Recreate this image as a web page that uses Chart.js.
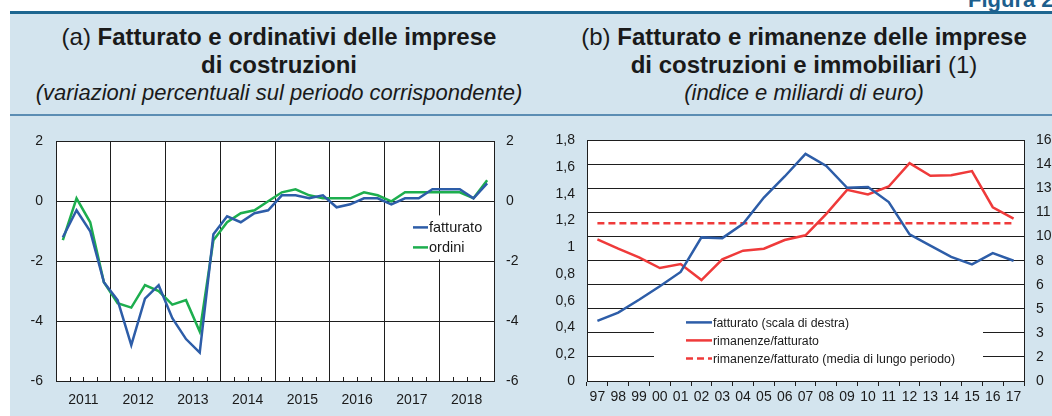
<!DOCTYPE html>
<html lang="it">
<head>
<meta charset="utf-8">
<title>Figura 2</title>
<script src="https://cdn.jsdelivr.net/npm/chart.js@4.4.1/dist/chart.umd.min.js"></script>
<style>
  html, body { margin: 0; padding: 0; background: #fff; }
  #page { position: relative; width: 1052px; height: 416px; overflow: hidden;
          font-family: 'Liberation Sans', Arial, sans-serif; color: #1a1a1a; }
  .band { position: absolute; left: 10px; top: 14px; right: 0; bottom: 0; background: #d3e4ee; }
  .topline { position: absolute; left: 10px; top: 11px; right: 0; height: 3px; background: #1d6690; }
  .sepline { position: absolute; left: 10px; top: 114px; right: 0; height: 2px; background: #5b8db3; }
  .figura { position: absolute; left: 968px; top: -13px; font-weight: bold; font-size: 22px;
            line-height: 25px; color: #1d5f8d; white-space: nowrap; }
  .head { position: absolute; top: 23px; width: 520px; text-align: center; line-height: 28px; }
  .head .t { font-size: 24px; }
  .head .s { font-size: 22px; font-style: italic; }
  canvas { position: absolute; top: 120px; }
</style>
</head>
<body>
<div id="page">
  <div class="band"></div>
  <div class="topline"></div>
  <div class="figura">Figura 2.</div>
  <div class="sepline"></div>

  <div class="head" style="left:19px">
    <div class="t">(a) <b>Fatturato e ordinativi delle imprese</b></div>
    <div class="t"><b>di costruzioni</b></div>
    <div class="s">(variazioni percentuali sul periodo corrispondente)</div>
  </div>
  <div class="head" style="left:544px">
    <div class="t">(b) <b>Fatturato e rimanenze delle imprese</b></div>
    <div class="t"><b>di costruzioni e immobiliari</b> (1)</div>
    <div class="s">(indice e miliardi di euro)</div>
  </div>

  <canvas id="chartA" width="520" height="296" style="left:10px"></canvas>
  <canvas id="chartB" width="522" height="296" style="left:530px"></canvas>
</div>

<script>
// --- pannello (a): dati trimestrali 2011-2018
const anni = ['2011', '2012', '2013', '2014', '2015', '2016', '2017', '2018'];
const fatturatoTrim = [-1.2, -0.3, -1.0, -2.7, -3.3, -4.8, -3.25, -2.8, -3.9, -4.6, -5.05, -1.1,
  -0.5, -0.7, -0.4, -0.3, 0.2, 0.2, 0.1, 0.2, -0.2, -0.1, 0.1, 0.1,
  -0.1, 0.1, 0.1, 0.4, 0.4, 0.4, 0.1, 0.6];
const ordiniTrim = [-1.3, 0.1, -0.7, -2.7, -3.4, -3.55, -2.8, -3.0, -3.45, -3.3, -4.35, -1.3,
  -0.7, -0.4, -0.3, 0.0, 0.3, 0.4, 0.2, 0.1, 0.1, 0.1, 0.3, 0.2,
  0.0, 0.3, 0.3, 0.3, 0.3, 0.3, 0.1, 0.7];
const ticksA = [-6, -4, -2, 0, 2];

// --- pannello (b): dati annuali 1997-2017
const anniB = ['97', '98', '99', '00', '01', '02', '03', '04', '05', '06', '07',
  '08', '09', '10', '11', '12', '13', '14', '15', '16', '17'];
const fatturatoMld = [4.0, 4.55, 5.4, 6.3, 7.25, 9.55, 9.5, 10.45, 12.2, 13.6, 15.1,
  14.3, 12.85, 12.9, 11.9, 9.75, 9.0, 8.25, 7.75, 8.5, 8.0];
const rimanenzeFatt = [1.06, 0.99, 0.925, 0.845, 0.875, 0.755, 0.91, 0.975, 0.99, 1.055, 1.09,
  1.25, 1.43, 1.395, 1.455, 1.63, 1.535, 1.54, 1.57, 1.3, 1.215];
const mediaLungoPeriodo = [1.18, 1.18, 1.18, 1.18, 1.18, 1.18, 1.18, 1.18, 1.18, 1.18, 1.18,
  1.18, 1.18, 1.18, 1.18, 1.18, 1.18, 1.18, 1.18, 1.18, 1.18];
const ticksSinistra = [0, 0.2, 0.4, 0.6, 0.8, 1, 1.2, 1.4, 1.6, 1.8];
const ticksDestra = [0, 1.6, 3.2, 4.8, 6.4, 8, 9.6, 11.2, 12.8, 14.4, 16];

const BLU = '#2d5da8';
const VERDE = '#1dae4e';
const ROSSO = '#ef3a3a';
const NERO = '#1e1e1e';

Chart.defaults.font.family = "'Liberation Sans', Arial, sans-serif";
Chart.defaults.font.size = 14;
Chart.defaults.color = '#1a1a1a';

const trimestri = anni.flatMap(function (a) {
  return ['T1', 'T2', 'T3', 'T4'].map(function (q) { return a + ' ' + q; });
});

// white plot area on the light blue band
const sfondoBianco = {
  id: 'sfondoBianco',
  beforeDraw(chart) {
    const a = chart.chartArea;
    const ctx = chart.ctx;
    ctx.save();
    ctx.fillStyle = '#fff';
    ctx.fillRect(a.left, a.top, a.width, a.height);
    ctx.restore();
  }
};

// legend drawn inside the plot, on a white patch that hides the grid
function legendaInterna(o) {
  return {
    id: 'legendaInterna',
    beforeDatasetsDraw(chart) {
      const a = chart.chartArea;
      const ctx = chart.ctx;
      ctx.save();
      ctx.fillStyle = '#fff';
      ctx.fillRect(a.left + o.box[0], a.top + o.box[1], o.box[2], o.box[3]);
      ctx.font = o.font;
      ctx.textBaseline = 'middle';
      chart.data.datasets.forEach(function (ds, i) {
        const y = a.top + o.y0 + i * o.dy;
        const x = a.left + o.x0;
        ctx.strokeStyle = ds.borderColor;
        ctx.lineWidth = ds.borderWidth;
        ctx.setLineDash(ds.borderDash || []);
        ctx.beginPath();
        ctx.moveTo(x, y);
        ctx.lineTo(x + o.len, y);
        ctx.stroke();
        ctx.setLineDash([]);
        ctx.fillStyle = '#1a1a1a';
        ctx.fillText(ds.label, x + o.len + 1, y + 1);
      });
      ctx.restore();
    }
  };
}

// small quarter marks rising from the bottom axis
const tacchetteTrim = {
  id: 'tacchetteTrim',
  afterDraw(chart) {
    const xs = chart.scales.x;
    const ctx = chart.ctx;
    const bottom = chart.chartArea.bottom;
    ctx.save();
    ctx.strokeStyle = NERO;
    ctx.lineWidth = 1;
    for (let k = 1; k < trimestri.length; k++) {
      if (k % 4 === 0) continue;
      const x = Math.round((xs.getPixelForTick(k - 1) + xs.getPixelForTick(k)) / 2) + 0.5;
      ctx.beginPath();
      ctx.moveTo(x, bottom);
      ctx.lineTo(x, bottom - 4);
      ctx.stroke();
    }
    ctx.restore();
  }
};

new Chart(document.getElementById('chartA'), {
  type: 'line',
  data: {
    labels: trimestri,
    datasets: [
      { label: 'fatturato', data: fatturatoTrim, borderColor: BLU, borderWidth: 2.5,
        pointRadius: 0, tension: 0, yAxisID: 'y' },
      { label: 'ordini', data: ordiniTrim, borderColor: VERDE, borderWidth: 2.5,
        pointRadius: 0, tension: 0, yAxisID: 'y' }
    ]
  },
  options: {
    responsive: false,
    animation: false,
    devicePixelRatio: 1,
    layout: { padding: { top: 18, left: 0, right: 0, bottom: 0 } },
    plugins: { legend: { display: false }, tooltip: { enabled: false } },
    scales: {
      x: {
        type: 'category', offset: true, weight: 0,
        grid: {
          offset: true, drawTicks: false, lineWidth: 1,
          color: function (c) {
            return (c.index === undefined || c.index % 4 === 0) ? NERO : 'rgba(0,0,0,0)';
          }
        },
        border: { color: NERO },
        ticks: { display: false },
        afterFit: function (s) { s.height = 0; }
      },
      anni: {
        type: 'category', labels: anni, position: 'bottom', offset: true, weight: 1,
        grid: { display: false },
        border: { display: false },
        ticks: { padding: 3, maxRotation: 0, autoSkip: false },
        afterFit: function (s) { s.height = 35; }
      },
      y: {
        min: -6, max: 2,
        afterBuildTicks: function (s) { s.ticks = ticksA.map(function (v) { return { value: v }; }); },
        ticks: { padding: 13, callback: function (v) { return String(v); } },
        grid: { color: NERO, drawTicks: false },
        border: { color: NERO },
        afterFit: function (s) { s.width = 46; }
      },
      y2: {
        position: 'right', min: -6, max: 2,
        afterBuildTicks: function (s) { s.ticks = ticksA.map(function (v) { return { value: v }; }); },
        ticks: { padding: 12, callback: function (v) { return String(v); } },
        grid: { drawOnChartArea: false, drawTicks: false },
        border: { color: NERO },
        afterFit: function (s) { s.width = 36; }
      }
    }
  },
  plugins: [sfondoBianco, tacchetteTrim,
    legendaInterna({ box: [352, 74, 82, 44], x0: 357, y0: 86, dy: 20, len: 15,
      font: "14.5px 'Liberation Sans', Arial, sans-serif" })]
});

new Chart(document.getElementById('chartB'), {
  type: 'line',
  data: {
    labels: anniB,
    datasets: [
      { label: 'fatturato (scala di destra)', data: fatturatoMld, borderColor: BLU, borderWidth: 2.5,
        pointRadius: 0, tension: 0, yAxisID: 'y2' },
      { label: 'rimanenze/fatturato', data: rimanenzeFatt, borderColor: ROSSO, borderWidth: 2.5,
        pointRadius: 0, tension: 0, yAxisID: 'y' },
      { label: 'rimanenze/fatturato (media di lungo periodo)', data: mediaLungoPeriodo,
        borderColor: ROSSO, borderWidth: 2.5, borderDash: [7, 4],
        pointRadius: 0, tension: 0, yAxisID: 'y' }
    ]
  },
  options: {
    responsive: false,
    animation: false,
    devicePixelRatio: 1,
    layout: { padding: { top: 18, left: 0, right: 0, bottom: 0 } },
    plugins: { legend: { display: false }, tooltip: { enabled: false } },
    scales: {
      x: {
        type: 'category', offset: true,
        grid: { offset: true, drawOnChartArea: false, drawTicks: true, tickLength: 5, color: NERO },
        border: { color: NERO },
        ticks: { padding: 3, maxRotation: 0, autoSkip: false },
        afterFit: function (s) { s.height = 35; }
      },
      y: {
        position: 'left', min: 0, max: 1.8,
        afterBuildTicks: function (s) { s.ticks = ticksSinistra.map(function (v) { return { value: v }; }); },
        ticks: { padding: 12, callback: function (v) { return String(+v.toFixed(1)).replace('.', ','); } },
        grid: { drawOnChartArea: false, drawTicks: false },
        border: { color: NERO },
        afterFit: function (s) { s.width = 57; }
      },
      y2: {
        position: 'right', min: 0, max: 16,
        afterBuildTicks: function (s) { s.ticks = ticksDestra.map(function (v) { return { value: v }; }); },
        ticks: { padding: 12, callback: function (v) { return String(Math.round(v)); } },
        grid: { color: NERO, drawTicks: false },
        border: { color: NERO },
        afterFit: function (s) { s.width = 28; }
      }
    }
  },
  plugins: [sfondoBianco,
    legendaInterna({ box: [67, 174, 329, 54], x0: 99, y0: 182, dy: 18, len: 26,
      font: "12.3px 'Liberation Sans', Arial, sans-serif" })]
});
</script>
</body>
</html>
